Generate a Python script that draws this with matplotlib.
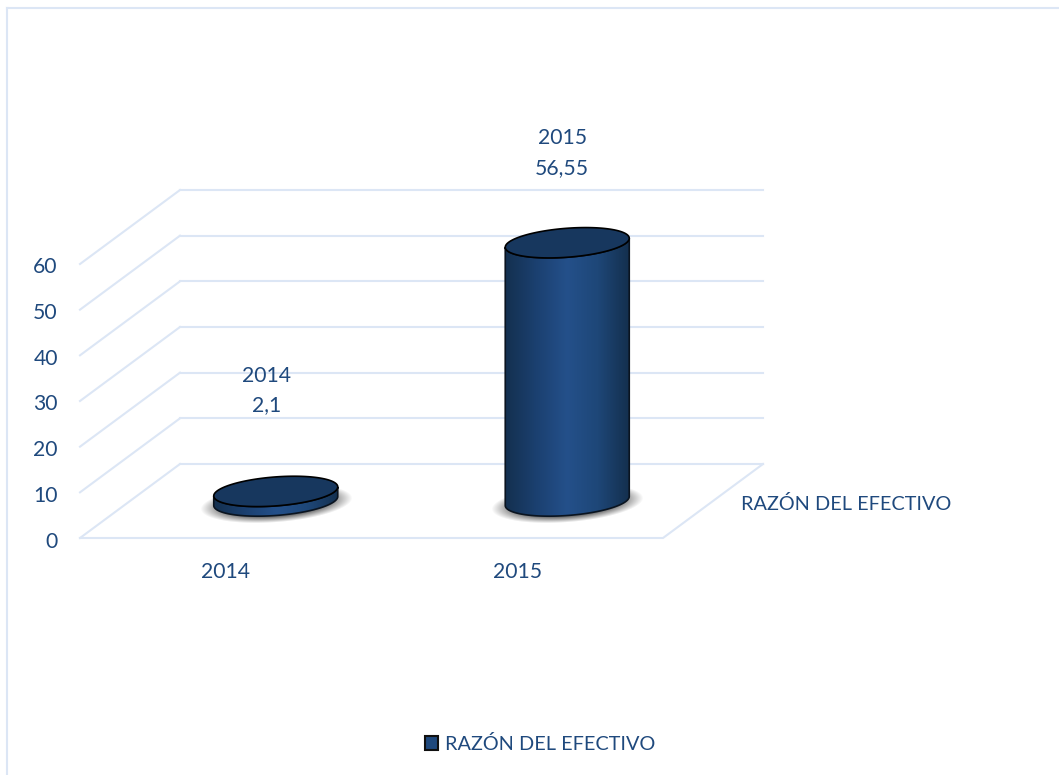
import matplotlib
matplotlib.use('Agg')
import matplotlib.pyplot as plt
import numpy as np
from matplotlib.colors import LinearSegmentedColormap
from matplotlib.patches import Patch, Polygon
from matplotlib.transforms import ScaledTranslation

# Data
years = ['2014', '2015']
values = [2.1, 56.55]
value_labels = ['2,1', '56,55']
series_name = 'RAZÓN DEL EFECTIVO'
y_ticks = [0, 10, 20, 30, 40, 50, 60]

W, H = 1059, 775
TEXT = '#1F497D'
GRID = '#DCE6F5'
FS = 14.3
FS_NUM = 15.2
plt.rcParams['font.family'] = ['Lato', 'DejaVu Sans']

fig = plt.figure(figsize=(W / 100, H / 100), dpi=100, facecolor='white')
# plot box of the front plane, in pixels: x 80-663, y 264-538
ax = fig.add_axes([80 / W, 1 - 538 / H, 583 / W, 274 / H])
ax.set_facecolor('none')
for s in ax.spines.values():
    s.set_visible(False)

xlim = (-0.5, 1.5)
ylim = (0, 60)
px_x = (xlim[1] - xlim[0]) / 583
px_y = (ylim[1] - ylim[0]) / 274

# depth of the fake 3d box, in pixels
depth_x, depth_y = 100 * px_x, 74 * px_y

# walls
for v in y_ticks:
    ax.plot([xlim[0], xlim[0] + depth_x], [v, v + depth_y], color=GRID, lw=1.5, clip_on=False, zorder=1)
    ax.plot([xlim[0] + depth_x, xlim[1] + depth_x], [v + depth_y, v + depth_y], color=GRID, lw=1.5, clip_on=False, zorder=1)
ax.plot([xlim[0], xlim[1], xlim[1] + depth_x], [0, 0, depth_y], color=GRID, lw=1.5, clip_on=False, zorder=1)


def ellipse(cx, cy, t):
    # slightly tilted ellipse, sizes in pixels
    x = cx + 62 * np.cos(t) * px_x
    y = cy + (4.5 * np.cos(t) - 14.5 * np.sin(t)) * px_y
    return x, y


body_cmap = LinearSegmentedColormap.from_list('body', ['#14304F', '#1B4070', '#24508A', '#1E4778', '#14304F'])
shadow_x = np.linspace(-90, 90, 181)
shadow_y = np.linspace(-32, 32, 65)

for i, val in enumerate(values):
    cx = i + depth_x / 2
    base = depth_y / 2
    top = base + val

    # soft shadow under the cylinder
    gx, gy = np.meshgrid(shadow_x, shadow_y)
    r = np.sqrt((gx / 76) ** 2 + ((gy - 4.5 * gx / 62 + 3) / 19) ** 2)
    rgba = np.zeros((len(shadow_y), len(shadow_x), 4))
    rgba[..., 3] = 0.55 * np.clip((1 - r) / 0.3, 0, 1)
    ax.imshow(rgba, extent=[cx - 90 * px_x, cx + 90 * px_x, base - 32 * px_y, base + 32 * px_y],
              origin='lower', aspect='auto', zorder=2, clip_on=False)

    # body with horizontal gradient, clipped to the outline
    t_low = np.linspace(np.pi, 0, 80)
    t_up = np.linspace(0, np.pi, 80)
    lx, ly = ellipse(cx, base, t_low)
    ux, uy = ellipse(cx, top, t_up)
    outline = np.r_[np.c_[lx, ly], np.c_[ux, uy]]
    body = Polygon(outline, closed=True, facecolor='none', edgecolor='#0A1420', lw=1.2, zorder=4, clip_on=False)
    ax.add_patch(body)
    im = ax.imshow(np.linspace(0, 1, 128).reshape(1, -1), cmap=body_cmap,
                   extent=[cx - 62 * px_x, cx + 62 * px_x, base - 20 * px_y, top + 20 * px_y],
                   aspect='auto', zorder=3)
    im.set_clip_path(body)
    im.set_clip_box(fig.bbox)

    # top face
    t = np.linspace(0, 2 * np.pi, 160)
    tx, ty = ellipse(cx, top, t)
    ax.add_patch(Polygon(np.c_[tx, ty], closed=True, facecolor='#17375E', edgecolor='black', lw=1.2, zorder=5, clip_on=False))

# data labels, offsets in pixels from the top of the bar
label_offset = [(-9, 76), (-5, 65)]
for i, val in enumerate(values):
    ox, oy = label_offset[i]
    ax.annotate(years[i] + '\n' + value_labels[i], (i + depth_x / 2, depth_y / 2 + val), xytext=(ox * 0.72, oy * 0.72),
                textcoords='offset points', ha='center', va='bottom', color=TEXT, fontsize=FS_NUM,
                linespacing=1.58, annotation_clip=False, zorder=6)

# depth axis label
ax.text(xlim[0] + (741 - 80) * px_x, (538 - 504) * px_y, series_name, color=TEXT, fontsize=FS,
        ha='left', va='center', clip_on=False)

ax.set_xlim(xlim)
ax.set_ylim(ylim)
ax.set_xticks([0, 1])
ax.set_xticklabels(years)
ax.set_yticks(y_ticks)
ax.tick_params(axis='both', length=0, labelsize=FS_NUM, labelcolor=TEXT)
ax.tick_params(axis='x', pad=17.3)
ax.tick_params(axis='y', pad=16)
for lab in ax.get_yticklabels():
    lab.set_transform(lab.get_transform() + ScaledTranslation(0, -0.015, fig.dpi_scale_trans))

# chart frame, only top and left edges are visible
fig.add_artist(plt.Line2D([6.5 / W, 1], [1 - 7.5 / H, 1 - 7.5 / H], color=GRID, lw=1.5))
fig.add_artist(plt.Line2D([6.5 / W, 6.5 / W], [0, 1 - 7.5 / H], color=GRID, lw=1.5))

handle = Patch(facecolor='#1F497D', edgecolor='#101010', lw=1.5)
fig.legend(handles=[handle], labels=[series_name], loc='center', bbox_to_anchor=(540 / W, 1 - 744 / H),
           frameon=False, fontsize=FS, labelcolor=TEXT, handlelength=0.65, handleheight=0.72, handletextpad=0.36)

fig.savefig('out.png', dpi=100)
